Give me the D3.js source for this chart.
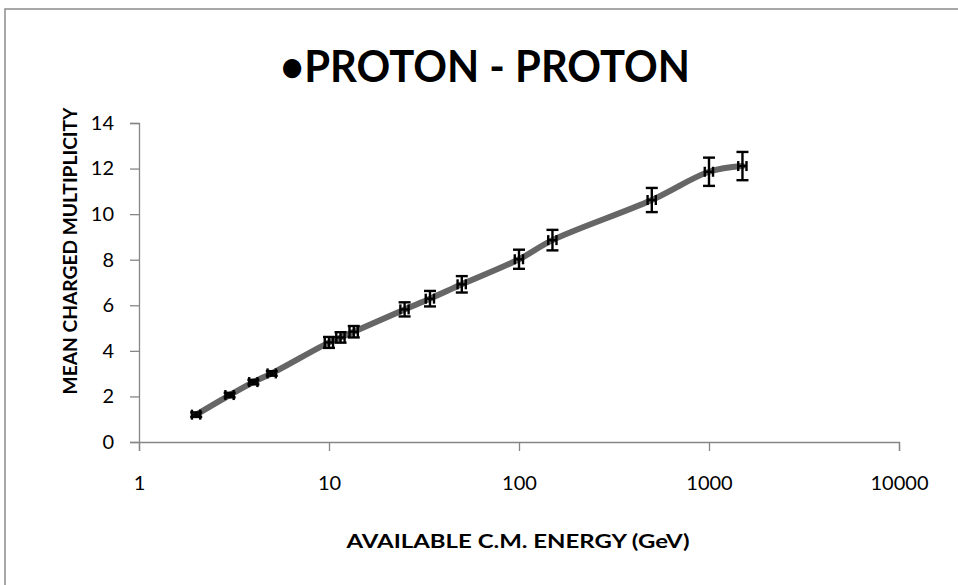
<!DOCTYPE html>
<html>
<head>
<meta charset="utf-8">
<script src="https://cdn.jsdelivr.net/npm/d3@7"></script>
<style>
  html, body { margin: 0; padding: 0; background: #fff; }
  svg { display: block; }
</style>
</head>
<body>
<svg id="chart" width="958" height="585"></svg>
<script>
// ---- data ----
const energy = [2, 3, 4, 5, 10, 11.5, 13.5, 25, 34, 50, 100, 150, 500, 1000, 1500];
const multiplicity = [1.2, 2.06, 2.63, 3.01, 4.37, 4.59, 4.84, 5.82, 6.29, 6.92, 8.02, 8.86, 10.62, 11.86, 12.11];
const yError = [0.1, 0.1, 0.1, 0.1, 0.24, 0.23, 0.25, 0.31, 0.34, 0.36, 0.42, 0.45, 0.53, 0.62, 0.62];
const xError = [0.1, 0.15, 0.2, 0.25, 0.5, 0.58, 0.68, 1.25, 1.7, 2.5, 5, 7.5, 25, 50, 75];
const xTicks = [1, 10, 100, 1000, 10000];
const yTicks = [0, 2, 4, 6, 8, 10, 12, 14];
const titleText = "\u2022PROTON - PROTON";
const xLabel = "AVAILABLE C.M. ENERGY (GeV)";
const yLabel = "MEAN CHARGED MULTIPLICITY";

const data = energy.map((e, i) => ({ x: e, y: multiplicity[i], ye: yError[i], xe: xError[i] }));

const svg = d3.select("#chart");
const font = "Lato, 'Open Sans', 'Liberation Sans', sans-serif";
const axisColor = "#868686";

// outer frame
svg.append("rect").attr("x", 5).attr("y", 9).attr("width", 1000).attr("height", 1000)
  .attr("fill", "none").attr("stroke", "#8c8c8c").attr("stroke-width", 1.5);

const x = d3.scaleLog().domain([1, 10000]).range([139, 899]);
const y = d3.scaleLinear().domain([0, 14]).range([442, 123]);

// axes
const xAxis = svg.append("g").attr("transform", `translate(0,${y(0)})`)
  .call(d3.axisBottom(x).tickValues(xTicks).tickFormat(d3.format("d")).tickSize(9).tickPadding(25));
const yAxis = svg.append("g").attr("transform", `translate(${x(1)},0)`)
  .call(d3.axisLeft(y).tickValues(yTicks).tickSize(9).tickPadding(16));

[xAxis, yAxis].forEach(g => {
  g.selectAll("path.domain").attr("stroke", axisColor).attr("stroke-width", 1.3);
  g.selectAll(".tick line").attr("stroke", axisColor).attr("stroke-width", 1.3);
  g.selectAll(".tick text").attr("fill", "#000").style("font-family", font).style("font-size", "20px");
});

// line
const line = d3.line().x(d => x(d.x)).y(d => y(d.y)).curve(d3.curveCatmullRom.alpha(0.5));
svg.append("path").datum(data).attr("d", line)
  .attr("fill", "none").attr("stroke", "#666666").attr("stroke-width", 6).attr("stroke-linecap", "round");

// error bars
const eb = svg.append("g").attr("stroke", "#000").attr("stroke-width", 2.4).attr("fill", "none");
data.forEach(d => {
  const cx = x(d.x), cy = y(d.y);
  const y1 = y(d.y + d.ye), y2 = y(d.y - d.ye);
  const x1 = x(d.x - d.xe), x2 = x(d.x + d.xe);
  const capW = 6, capH = 5;
  // vertical
  eb.append("line").attr("x1", cx).attr("x2", cx).attr("y1", y1).attr("y2", y2);
  eb.append("line").attr("x1", cx - capW).attr("x2", cx + capW).attr("y1", y1).attr("y2", y1);
  eb.append("line").attr("x1", cx - capW).attr("x2", cx + capW).attr("y1", y2).attr("y2", y2);
  // horizontal
  eb.append("line").attr("x1", x1).attr("x2", x2).attr("y1", cy).attr("y2", cy);
  eb.append("line").attr("x1", x1).attr("x2", x1).attr("y1", cy - capH).attr("y2", cy + capH);
  eb.append("line").attr("x1", x2).attr("x2", x2).attr("y1", cy - capH).attr("y2", cy + capH);
});

// title
svg.append("text").attr("x", 485).attr("y", 82).attr("text-anchor", "middle")
  .attr("textLength", 410).attr("lengthAdjust", "spacingAndGlyphs")
  .style("font-family", font).style("font-weight", "bold").style("font-size", "44px")
  .text(titleText);

// axis titles
svg.append("text").attr("x", 518).attr("y", 548).attr("text-anchor", "middle")
  .attr("textLength", 343).attr("lengthAdjust", "spacingAndGlyphs")
  .style("font-family", font).style("font-weight", "bold").style("font-size", "18px")
  .text(xLabel);

svg.append("text").attr("transform", "translate(77,251) rotate(-90)").attr("text-anchor", "middle")
  .attr("textLength", 287).attr("lengthAdjust", "spacingAndGlyphs")
  .style("font-family", font).style("font-weight", "bold").style("font-size", "18px")
  .text(yLabel);
</script>
</body>
</html>
